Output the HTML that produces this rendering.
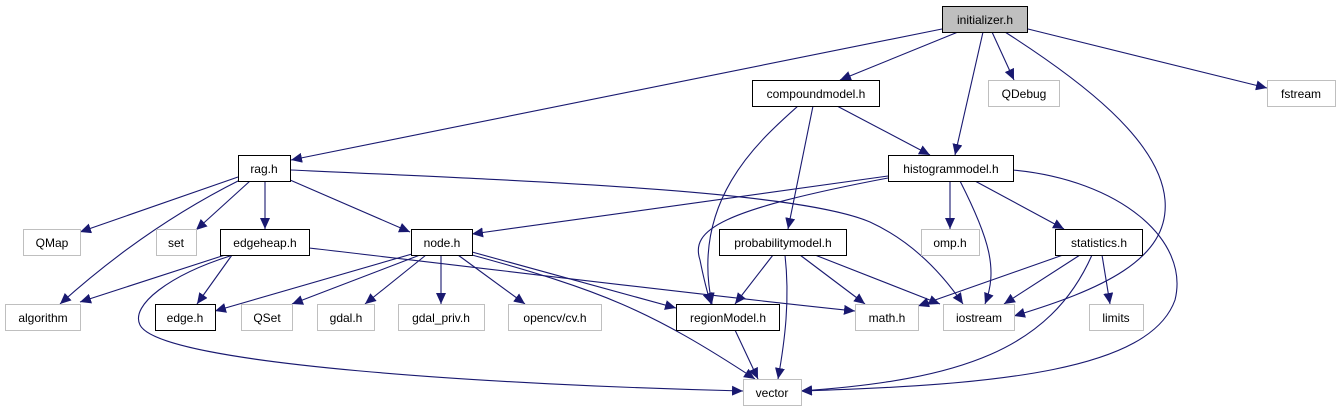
<!DOCTYPE html>
<html><head><meta charset="utf-8"><style>
body{margin:0;background:#fff;width:1340px;height:411px;overflow:hidden}
svg{display:block}
text{font-family:"Liberation Sans",Helvetica,sans-serif;font-size:12px;fill:#000}
</style></head><body>
<svg width="1340" height="411" viewBox="0 0 1340 411">
<defs><marker id="a" markerUnits="userSpaceOnUse" markerWidth="12" markerHeight="10" refX="11" refY="5" orient="auto"><path d="M0,0 L11,5 L0,10 Z" fill="#191970"/></marker></defs>
<g fill="none" stroke="#191970" stroke-width="1.1" marker-end="url(#a)">
<path d="M942,29 L291,160"/>
<path d="M958,32 L840,80"/>
<path d="M983,32 L955,155"/>
<path d="M992,32 L1014,80"/>
<path d="M1005,32 C1080,80 1160,140 1165,200 C1170,260 1100,290 1014,316"/>
<path d="M1028,29 L1267,88"/>
<path d="M798,106 C760,140 690,200 712,304"/>
<path d="M813,106 L788,229"/>
<path d="M837,106 L930,155"/>
<path d="M238,177 L80,232"/>
<path d="M240,180 C180,210 120,250 60,304"/>
<path d="M250,181 L196,230"/>
<path d="M265,181 L265,229"/>
<path d="M290,180 L410,232"/>
<path d="M291,170 C560,182 800,192 870,222 C920,245 950,285 963,304"/>
<path d="M888,176 L472,234"/>
<path d="M888,178 C720,210 690,230 700,260 C705,285 708,295 711,304"/>
<path d="M950,181 L950,229"/>
<path d="M960,181 C990,240 998,270 985,304"/>
<path d="M975,181 L1064,229"/>
<path d="M1013,170 C1120,180 1190,240 1175,300 C1150,370 1000,385 801,391"/>
<path d="M225,255 L80,302"/>
<path d="M232,255 L197,304"/>
<path d="M309,248 C500,270 700,295 855,311"/>
<path d="M230,256 C170,275 130,305 140,325 C160,365 500,385 743,391"/>
<path d="M412,254 L215,311"/>
<path d="M420,255 L292,304"/>
<path d="M426,255 L365,304"/>
<path d="M441,255 L441,304"/>
<path d="M458,255 L525,304"/>
<path d="M472,252 L676,308"/>
<path d="M472,255 C600,290 650,310 755,379"/>
<path d="M773,255 L735,304"/>
<path d="M785,255 C790,300 785,340 778,379"/>
<path d="M800,255 L865,304"/>
<path d="M815,255 L940,304"/>
<path d="M1063,255 L918,306"/>
<path d="M1080,255 L1004,304"/>
<path d="M1092,255 C1050,350 960,380 801,391"/>
<path d="M1102,255 L1110,304"/>
<path d="M735,330 L758,379"/>
</g>
<g stroke-width="1">
<rect x="942.5" y="6.5" width="85" height="26" fill="#bfbfbf" stroke="#000"/>
<rect x="752.5" y="80.5" width="127" height="26" fill="#fff" stroke="#000"/>
<rect x="988.5" y="80.5" width="71" height="26" fill="#fff" stroke="#bfbfbf"/>
<rect x="1267.5" y="80.5" width="68" height="26" fill="#fff" stroke="#bfbfbf"/>
<rect x="238.5" y="155.5" width="52" height="26" fill="#fff" stroke="#000"/>
<rect x="888.5" y="155.5" width="125" height="26" fill="#fff" stroke="#000"/>
<rect x="23.5" y="229.5" width="57" height="26" fill="#fff" stroke="#bfbfbf"/>
<rect x="156.5" y="229.5" width="40" height="26" fill="#fff" stroke="#bfbfbf"/>
<rect x="220.5" y="229.5" width="89" height="26" fill="#fff" stroke="#000"/>
<rect x="411.5" y="229.5" width="61" height="26" fill="#fff" stroke="#000"/>
<rect x="719.5" y="229.5" width="127" height="26" fill="#fff" stroke="#000"/>
<rect x="921.5" y="229.5" width="58" height="26" fill="#fff" stroke="#bfbfbf"/>
<rect x="1055.5" y="229.5" width="87" height="26" fill="#fff" stroke="#000"/>
<rect x="5.5" y="304.5" width="75" height="26" fill="#fff" stroke="#bfbfbf"/>
<rect x="155.5" y="304.5" width="60" height="26" fill="#fff" stroke="#000"/>
<rect x="241.5" y="304.5" width="51" height="26" fill="#fff" stroke="#bfbfbf"/>
<rect x="317.5" y="304.5" width="57" height="26" fill="#fff" stroke="#bfbfbf"/>
<rect x="398.5" y="304.5" width="86" height="26" fill="#fff" stroke="#bfbfbf"/>
<rect x="508.5" y="304.5" width="93" height="26" fill="#fff" stroke="#bfbfbf"/>
<rect x="676.5" y="304.5" width="103" height="26" fill="#fff" stroke="#000"/>
<rect x="855.5" y="304.5" width="63" height="26" fill="#fff" stroke="#bfbfbf"/>
<rect x="943.5" y="304.5" width="71" height="26" fill="#fff" stroke="#bfbfbf"/>
<rect x="1089.5" y="304.5" width="54" height="26" fill="#fff" stroke="#bfbfbf"/>
<rect x="743.5" y="379.5" width="58" height="26" fill="#fff" stroke="#bfbfbf"/>
</g>
<g text-anchor="middle">
<text x="985" y="24">initializer.h</text>
<text x="816" y="98">compoundmodel.h</text>
<text x="1024" y="98">QDebug</text>
<text x="1301" y="98">fstream</text>
<text x="264" y="173">rag.h</text>
<text x="951" y="173">histogrammodel.h</text>
<text x="52" y="247">QMap</text>
<text x="176" y="247">set</text>
<text x="265" y="247">edgeheap.h</text>
<text x="442" y="247">node.h</text>
<text x="783" y="247">probabilitymodel.h</text>
<text x="950" y="247">omp.h</text>
<text x="1099" y="247">statistics.h</text>
<text x="43" y="322">algorithm</text>
<text x="185" y="322">edge.h</text>
<text x="267" y="322">QSet</text>
<text x="346" y="322">gdal.h</text>
<text x="441" y="322">gdal_priv.h</text>
<text x="555" y="322">opencv/cv.h</text>
<text x="728" y="322">regionModel.h</text>
<text x="887" y="322">math.h</text>
<text x="979" y="322">iostream</text>
<text x="1116" y="322">limits</text>
<text x="772" y="397">vector</text>
</g>
</svg>
</body></html>
